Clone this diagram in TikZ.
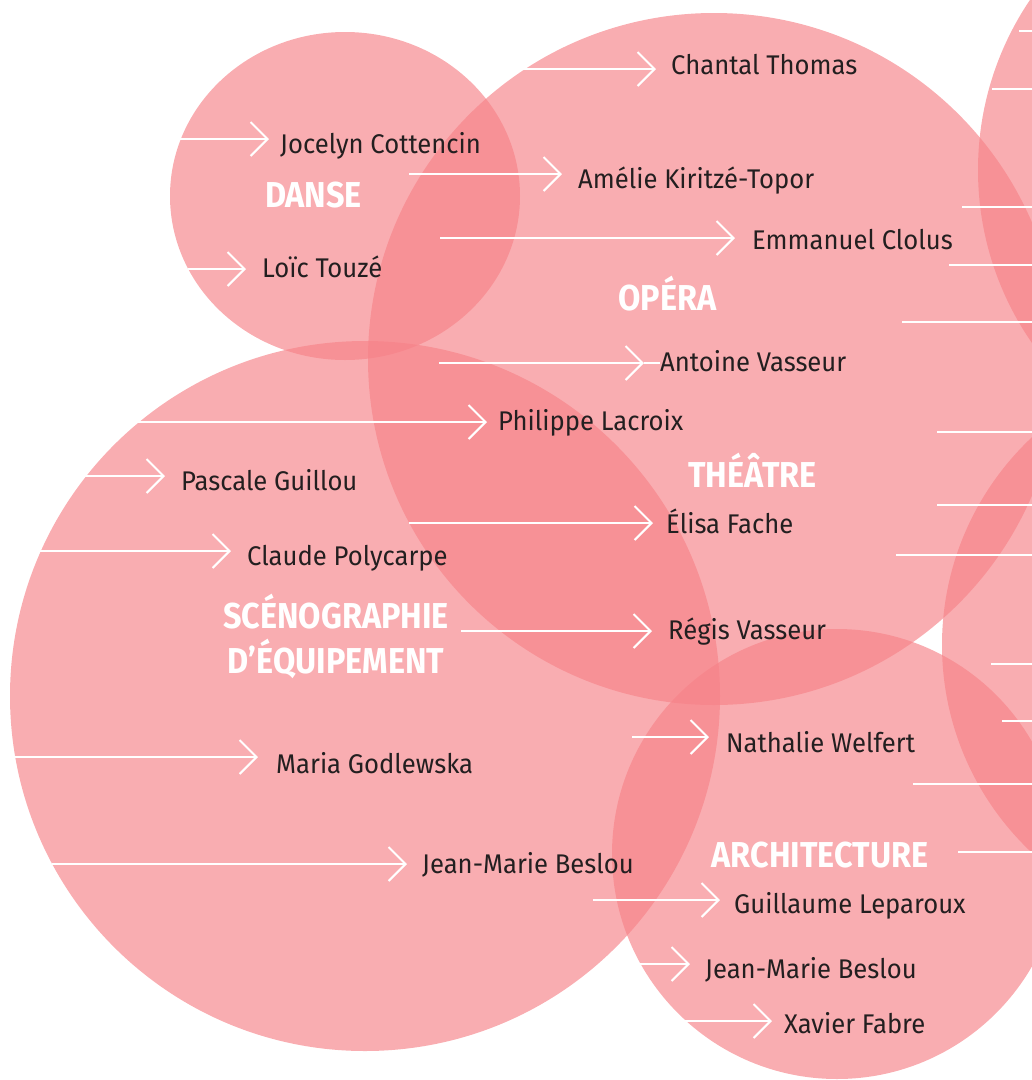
\documentclass[tikz,border=0pt]{standalone}
\usepackage{fontspec}
\setmainfont{Fira Sans}
\newfontfamily\labfont{Fira Sans}[FakeStretch=0.9]
\newfontfamily\pplfont{Fira Sans}[FakeStretch=0.95]
\usetikzlibrary{arrows.meta}
\definecolor{rosefill}{RGB}{246,130,136}
\definecolor{inkc}{RGB}{35,31,32}
\begin{document}
\begin{tikzpicture}[x=1pt,y=-1pt,
  circ/.style={fill=rosefill,fill opacity=0.66},
  wline/.style={draw=white,line width=2pt},
  warrow/.style={wline,-{Straight Barb[length=17pt,width=34pt]}},
  ppl/.style={anchor=base west,inner sep=0pt,text=inkc,font=\pplfont\fontsize{27}{27}\selectfont},
  labtxt/.style={anchor=base,inner sep=0pt,text=white,font=\labfont\bfseries\fontsize{36}{36}\selectfont}]
\useasboundingbox (0,0) rectangle (1032,1080);
\clip (0,0) rectangle (1032,1080);
% circles
\fill[circ] (345,196) ellipse [x radius=175pt, y radius=164pt];
\fill[circ] (714,359) circle (346pt);
\fill[circ] (365,696) circle (355pt);
\fill[circ] (837,854) circle (225pt);
\fill[circ] (1282,170) circle (304pt);
\fill[circ] (1227,645) circle (285pt);
% lines off the right edge
\foreach \lx/\ly in {1019/31, 992/89, 962/207, 949/265, 902/322, 937/432, 937/505, 896/555, 991/664, 1002/721, 913/784, 958/852}
  {\coordinate (r\ly) at (\lx,\ly); \draw[wline] (r\ly) -- (1032,\ly);}
% labels
\node[labtxt] (danse) at (313.5,207) {DANSE};
\node[labtxt] (opera) at (667.5,310) {OPÉRA};
\node[labtxt] (theatre) at (752.5,487) {THÉÂTRE};
\node[labtxt] (sceno) at (336,628) {SCÉNOGRAPHIE};
\node[labtxt] (equip) at (336,673) {D’ÉQUIPEMENT};
\node[labtxt] (archi) at (820,867) {ARCHITECTURE};
% names and arrows
\foreach \sx/\tx/\ay/\nx/\nb/\nm/\txt in {
  523/656/69/671/74/chantal/Chantal Thomas,
  180/269/139/280/153/jocelyn/Jocelyn Cottencin,
  409/562/174/578/188/amelie/Amélie Kiritzé-Topor,
  440/735/238/752/249/emmanuel/Emmanuel Clolus,
  188/246/269/262/277/loic/Loïc Touzé,
  439/644/363/660/371/antoine/Antoine Vasseur,
  138/487/422/498/430/philippe/Philippe Lacroix,
  85/165/476/181/490/pascale/Pascale Guillou,
  409/653/523/666/533/elisa/Élisa Fache,
  40/231/551/247/565/claude/Claude Polycarpe,
  461/652/631/668/639/regis/Régis Vasseur,
  632/709/737/726/752/nathalie/Nathalie Welfert,
  15/258/757/276/773/maria/Maria Godlewska,
  52/407/864/422/873/jmbA/Jean-Marie Beslou,
  593/720/900/734/913/guillaume/Guillaume Leparoux,
  638/690/964/705/978/jmbB/Jean-Marie Beslou,
  682/772/1021/784/1033/xavier/Xavier Fabre}
  {\coordinate (s\nm) at (\sx,\ay);
   \coordinate (t\nm) at (\tx,\ay);
   \draw[warrow] (s\nm) -- (t\nm);
   \node[ppl] (\nm) at (\nx,\nb) {\txt};}
\draw[wline] (tantoine) -- (antoine.west |- tantoine);
\end{tikzpicture}
\end{document}
